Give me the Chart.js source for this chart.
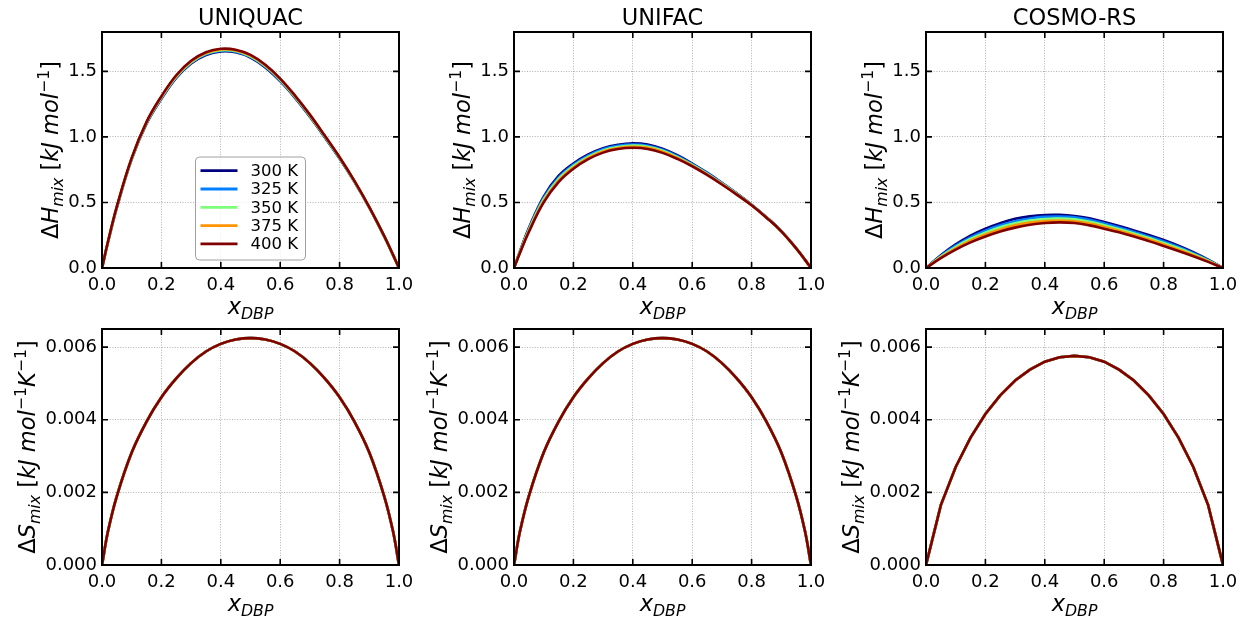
<!DOCTYPE html>
<html>
<head>
<meta charset="utf-8">
<script src="https://cdn.jsdelivr.net/npm/chart.js@4.4.1/dist/chart.umd.min.js"></script>
<style>
  html, body { margin: 0; padding: 0; background: #fff; width: 1239px; height: 617px; overflow: hidden; }
  canvas { position: absolute; }
</style>
</head>
<body>
<canvas id="hUniquac"></canvas>
<canvas id="hUnifac"></canvas>
<canvas id="hCosmo"></canvas>
<canvas id="sUniquac"></canvas>
<canvas id="sUnifac"></canvas>
<canvas id="sCosmo"></canvas>
<script>
// ---- data -------------------------------------------------------
const xFine  = [0, 0.02, 0.05, 0.1, 0.15, 0.2, 0.25, 0.3, 0.35, 0.4, 0.45, 0.5, 0.55, 0.6, 0.65, 0.7, 0.75, 0.8, 0.85, 0.9, 0.95, 0.98, 1];
const xCosmo = [0, 0.05, 0.1, 0.15, 0.2, 0.25, 0.3, 0.35, 0.4, 0.45, 0.5, 0.55, 0.6, 0.65, 0.7, 0.75, 0.8, 0.85, 0.9, 0.95, 1];

const temps      = ['300 K', '325 K', '350 K', '375 K', '400 K'];
const tempColors = ['#000080', '#0080ff', '#7dff7a', '#ff9400', '#800000'];

// ΔH_mix, UNIQUAC (kJ/mol), on xFine
const uniquacH300 = [0, 0.195, 0.460, 0.830, 1.100, 1.290, 1.450, 1.560, 1.625, 1.652, 1.645, 1.605, 1.530, 1.425, 1.298, 1.154, 0.997, 0.834, 0.657, 0.461, 0.242, 0.099, 0];
const uniquacH325 = [0, 0.196, 0.462, 0.832, 1.104, 1.295, 1.455, 1.565, 1.630, 1.657, 1.650, 1.610, 1.535, 1.430, 1.302, 1.158, 1.000, 0.837, 0.659, 0.462, 0.243, 0.099, 0];
const uniquacH350 = [0, 0.197, 0.465, 0.835, 1.108, 1.300, 1.460, 1.570, 1.635, 1.662, 1.655, 1.615, 1.540, 1.435, 1.306, 1.162, 1.004, 0.840, 0.661, 0.463, 0.243, 0.100, 0];
const uniquacH375 = [0, 0.198, 0.467, 0.838, 1.112, 1.305, 1.465, 1.575, 1.640, 1.667, 1.660, 1.620, 1.545, 1.440, 1.310, 1.166, 1.007, 0.843, 0.663, 0.464, 0.244, 0.100, 0];
const uniquacH400 = [0, 0.200, 0.470, 0.840, 1.115, 1.310, 1.470, 1.580, 1.645, 1.672, 1.665, 1.625, 1.550, 1.445, 1.315, 1.170, 1.010, 0.845, 0.665, 0.465, 0.245, 0.100, 0];

// ΔH_mix, UNIFAC (kJ/mol), on xFine
const unifacH300 = [0, 0.127, 0.305, 0.545, 0.702, 0.797, 0.866, 0.914, 0.940, 0.951, 0.942, 0.910, 0.860, 0.797, 0.727, 0.650, 0.569, 0.483, 0.388, 0.282, 0.151, 0.062, 0];
const unifacH325 = [0, 0.124, 0.297, 0.534, 0.690, 0.787, 0.857, 0.906, 0.932, 0.942, 0.933, 0.902, 0.853, 0.792, 0.723, 0.647, 0.567, 0.481, 0.387, 0.281, 0.151, 0.062, 0];
const unifacH350 = [0, 0.121, 0.290, 0.523, 0.678, 0.777, 0.848, 0.897, 0.923, 0.934, 0.925, 0.894, 0.846, 0.786, 0.719, 0.644, 0.565, 0.480, 0.386, 0.281, 0.150, 0.062, 0];
const unifacH375 = [0, 0.118, 0.282, 0.511, 0.666, 0.767, 0.839, 0.888, 0.915, 0.925, 0.916, 0.886, 0.839, 0.781, 0.714, 0.640, 0.562, 0.479, 0.385, 0.280, 0.150, 0.062, 0];
const unifacH400 = [0, 0.115, 0.275, 0.500, 0.655, 0.757, 0.830, 0.880, 0.907, 0.917, 0.908, 0.878, 0.832, 0.776, 0.710, 0.637, 0.560, 0.478, 0.384, 0.280, 0.150, 0.062, 0];

// ΔH_mix, COSMO-RS (kJ/mol), on xCosmo
const cosmoH300 = [0, 0.098, 0.180, 0.247, 0.300, 0.342, 0.375, 0.394, 0.404, 0.405, 0.397, 0.379, 0.351, 0.320, 0.287, 0.252, 0.214, 0.170, 0.120, 0.063, 0];
const cosmoH325 = [0, 0.092, 0.170, 0.234, 0.285, 0.326, 0.357, 0.378, 0.390, 0.392, 0.386, 0.367, 0.339, 0.308, 0.275, 0.239, 0.202, 0.160, 0.113, 0.059, 0];
const cosmoH350 = [0, 0.087, 0.160, 0.221, 0.270, 0.310, 0.341, 0.362, 0.374, 0.377, 0.371, 0.353, 0.326, 0.296, 0.264, 0.228, 0.191, 0.150, 0.105, 0.055, 0];
const cosmoH375 = [0, 0.081, 0.150, 0.208, 0.255, 0.294, 0.325, 0.346, 0.358, 0.362, 0.357, 0.339, 0.313, 0.284, 0.252, 0.217, 0.180, 0.140, 0.098, 0.051, 0];
const cosmoH400 = [0, 0.075, 0.140, 0.195, 0.240, 0.278, 0.308, 0.330, 0.343, 0.348, 0.343, 0.325, 0.300, 0.272, 0.240, 0.205, 0.168, 0.130, 0.090, 0.047, 0];

// ΔS_mix (kJ/mol/K) – same for every temperature
const uniquacS = [0, 0.00092, 0.00190, 0.00310, 0.00395, 0.00462, 0.00514, 0.00556, 0.00588, 0.00609, 0.00621, 0.00625, 0.00621, 0.00609, 0.00588, 0.00556, 0.00514, 0.00462, 0.00395, 0.00310, 0.00190, 0.00092, 0];
const unifacS  = [0, 0.00092, 0.00190, 0.00310, 0.00395, 0.00462, 0.00514, 0.00556, 0.00588, 0.00609, 0.00621, 0.00625, 0.00621, 0.00609, 0.00588, 0.00556, 0.00514, 0.00462, 0.00395, 0.00310, 0.00190, 0.00092, 0];
const cosmoS   = [0, 0.00165, 0.00270, 0.00351, 0.00416, 0.00467, 0.00508, 0.00538, 0.00560, 0.00572, 0.00576, 0.00572, 0.00560, 0.00538, 0.00508, 0.00467, 0.00416, 0.00351, 0.00270, 0.00165, 0];

// ---- layout -----------------------------------------------------
const FONT = '"DejaVu Sans", sans-serif';
const PLOT_W = 297, PLOT_H = 236;
const PAD_L = 100, PAD_T = 32, PAD_R = 28, PAD_B = 60;
const colLeft = [102, 514, 926];
const rowTop  = [32, 329];

Chart.defaults.font.family = FONT;
Chart.defaults.color = '#000';

const xLabel = [{ t: 'x', it: true }, { t: 'DBP', it: true, sub: true }];
const hLabel = [{ t: 'Δ' }, { t: 'H', it: true }, { t: 'mix', it: true, sub: true }, { t: ' [' },
                { t: 'kJ', it: true }, { t: ' ' }, { t: 'mol', it: true }, { t: '−1', sup: true }, { t: ']' }];
const sLabel = [{ t: 'Δ' }, { t: 'S', it: true }, { t: 'mix', it: true, sub: true }, { t: ' [' },
                { t: 'kJ', it: true }, { t: ' ' }, { t: 'mol', it: true }, { t: '−1', sup: true },
                { t: 'K', it: true }, { t: '−1', sup: true }, { t: ']' }];

function setFont(ctx, size, italic) {
  ctx.font = (italic ? 'italic ' : '') + size + 'px ' + FONT;
}

// mathtext-like label: pieces with italic / sub / sup, centred on (x, y)
function drawRich(ctx, segs, x, y, size, rot) {
  const parts = segs.map(s => {
    const sz = (s.sub || s.sup) ? size * 0.7 : size;
    setFont(ctx, sz, s.it);
    return Object.assign({}, s, { sz, w: ctx.measureText(s.t).width });
  });
  const total = parts.reduce((a, p) => a + p.w, 0);
  ctx.save();
  ctx.translate(x, y);
  ctx.rotate(rot || 0);
  ctx.textAlign = 'left';
  ctx.textBaseline = 'alphabetic';
  ctx.fillStyle = '#000';
  let cx = -total / 2;
  parts.forEach(p => {
    setFont(ctx, p.sz, p.it);
    const dy = p.sub ? size * 0.24 : (p.sup ? -size * 0.4 : 0);
    ctx.fillText(p.t, cx, dy);
    cx += p.w;
  });
  ctx.restore();
}

function drawLegend(chart) {
  const ctx = chart.ctx, a = chart.chartArea;
  const w = 110, h = 103, rowH = 18.3;
  const x0 = (a.left + a.right) / 2 - w / 2, y0 = a.bottom - 8 - h;
  ctx.save();
  ctx.beginPath();
  ctx.roundRect(x0, y0, w, h, 4);
  ctx.fillStyle = 'rgba(255,255,255,0.8)';
  ctx.fill();
  ctx.strokeStyle = '#a0a0a0';
  ctx.lineWidth = 1;
  ctx.stroke();
  chart.data.datasets.forEach((d, i) => {
    const yy = y0 + 13.7 + i * rowH;
    ctx.beginPath();
    ctx.moveTo(x0 + 5, yy);
    ctx.lineTo(x0 + 42, yy);
    ctx.strokeStyle = d.borderColor;
    ctx.lineWidth = 2.8;
    ctx.stroke();
    setFont(ctx, 16.5, false);
    ctx.fillStyle = '#000';
    ctx.textAlign = 'left';
    ctx.textBaseline = 'middle';
    ctx.fillText(d.label, x0 + 55, yy + 1);
  });
  ctx.restore();
}

function panelPlugin(cfg) {
  return {
    id: 'panel',
    afterDraw(chart) {
      const ctx = chart.ctx, a = chart.chartArea;
      const xs = chart.scales.x, ys = chart.scales.y;
      ctx.save();
      // inward ticks on all four sides
      ctx.strokeStyle = '#000';
      ctx.lineWidth = 1.6;
      ctx.beginPath();
      xs.ticks.forEach(t => {
        const p = xs.getPixelForValue(t.value);
        ctx.moveTo(p, a.bottom); ctx.lineTo(p, a.bottom - 6);
        ctx.moveTo(p, a.top);    ctx.lineTo(p, a.top + 6);
      });
      ys.ticks.forEach(t => {
        const p = ys.getPixelForValue(t.value);
        ctx.moveTo(a.left, p);  ctx.lineTo(a.left + 6, p);
        ctx.moveTo(a.right, p); ctx.lineTo(a.right - 6, p);
      });
      ctx.stroke();
      ctx.lineWidth = 2;
      ctx.strokeRect(a.left, a.top, a.right - a.left, a.bottom - a.top);
      ctx.restore();

      const cx = (a.left + a.right) / 2;
      if (cfg.title) {
        ctx.save();
        setFont(ctx, 22.5, false);
        ctx.fillStyle = '#000';
        ctx.textAlign = 'center';
        ctx.textBaseline = 'alphabetic';
        ctx.fillText(cfg.title, cx, a.top - 7);
        ctx.restore();
      }
      drawRich(ctx, xLabel, cx, a.bottom + 46, 22.5, 0);
      drawRich(ctx, cfg.yLabel, a.left - cfg.yLabelGap, (a.top + a.bottom) / 2, 22.5, -Math.PI / 2);
      if (cfg.legend) drawLegend(chart);
    }
  };
}

function makePanel(id, col, row, xs, series, yMax, yStep, yDec, smooth, cfg) {
  const canvas = document.getElementById(id);
  canvas.width = PAD_L + PLOT_W + PAD_R;
  canvas.height = PAD_T + PLOT_H + PAD_B;
  canvas.style.left = (colLeft[col] - PAD_L) + 'px';
  canvas.style.top = (rowTop[row] - PAD_T) + 'px';

  const datasets = series.map((ys, i) => ({
    label: temps[i],
    data: xs.map((x, k) => ({ x, y: ys[k] })),
    borderColor: tempColors[i],
    borderWidth: 2.6,
    pointRadius: 0,
    fill: false,
    tension: smooth ? 0.4 : 0,
    order: series.length - 1 - i,   // 400 K drawn last (on top)
  }));

  new Chart(canvas, {
    type: 'line',
    data: { datasets },
    options: {
      responsive: false,
      animation: false,
      events: [],
      layout: { padding: { left: 0, top: PAD_T, right: PAD_R, bottom: 0 } },
      plugins: { legend: { display: false }, tooltip: { enabled: false } },
      scales: {
        x: {
          type: 'linear', min: 0, max: 1,
          afterFit: s => { s.height = PAD_B; },
          ticks: { stepSize: 0.2, padding: 7, maxRotation: 0, autoSkip: false,
                   font: { size: 18 }, color: '#000', callback: v => v.toFixed(1) },
          grid: { color: '#b0b0b0', lineWidth: 1, drawTicks: false },
          border: { display: false, dash: [1, 1.6] },
        },
        y: {
          type: 'linear', min: 0, max: yMax,
          afterFit: s => { s.width = PAD_L; },
          ticks: { stepSize: yStep, includeBounds: false, padding: 5,
                   font: { size: 18 }, color: '#000', callback: v => v.toFixed(yDec) },
          grid: { color: '#b0b0b0', lineWidth: 1, drawTicks: false },
          border: { display: false, dash: [1, 1.6] },
        }
      }
    },
    plugins: [panelPlugin(cfg)]
  });
}

const allTemps = s => [s, s, s, s, s];

makePanel('hUniquac', 0, 0, xFine, [uniquacH300, uniquacH325, uniquacH350, uniquacH375, uniquacH400], 1.8, 0.5, 1, true,
          { title: 'UNIQUAC', yLabel: hLabel, yLabelGap: 44, legend: true });
makePanel('hUnifac', 1, 0, xFine, [unifacH300, unifacH325, unifacH350, unifacH375, unifacH400], 1.8, 0.5, 1, true,
          { title: 'UNIFAC', yLabel: hLabel, yLabelGap: 44 });
makePanel('hCosmo', 2, 0, xCosmo, [cosmoH300, cosmoH325, cosmoH350, cosmoH375, cosmoH400], 1.8, 0.5, 1, true,
          { title: 'COSMO-RS', yLabel: hLabel, yLabelGap: 44 });
makePanel('sUniquac', 0, 1, xFine, allTemps(uniquacS), 0.0065, 0.002, 3, true, { yLabel: sLabel, yLabelGap: 67 });
makePanel('sUnifac', 1, 1, xFine, allTemps(unifacS), 0.0065, 0.002, 3, true, { yLabel: sLabel, yLabelGap: 67 });
makePanel('sCosmo', 2, 1, xCosmo, allTemps(cosmoS), 0.0065, 0.002, 3, false, { yLabel: sLabel, yLabelGap: 67 });
</script>
</body>
</html>
